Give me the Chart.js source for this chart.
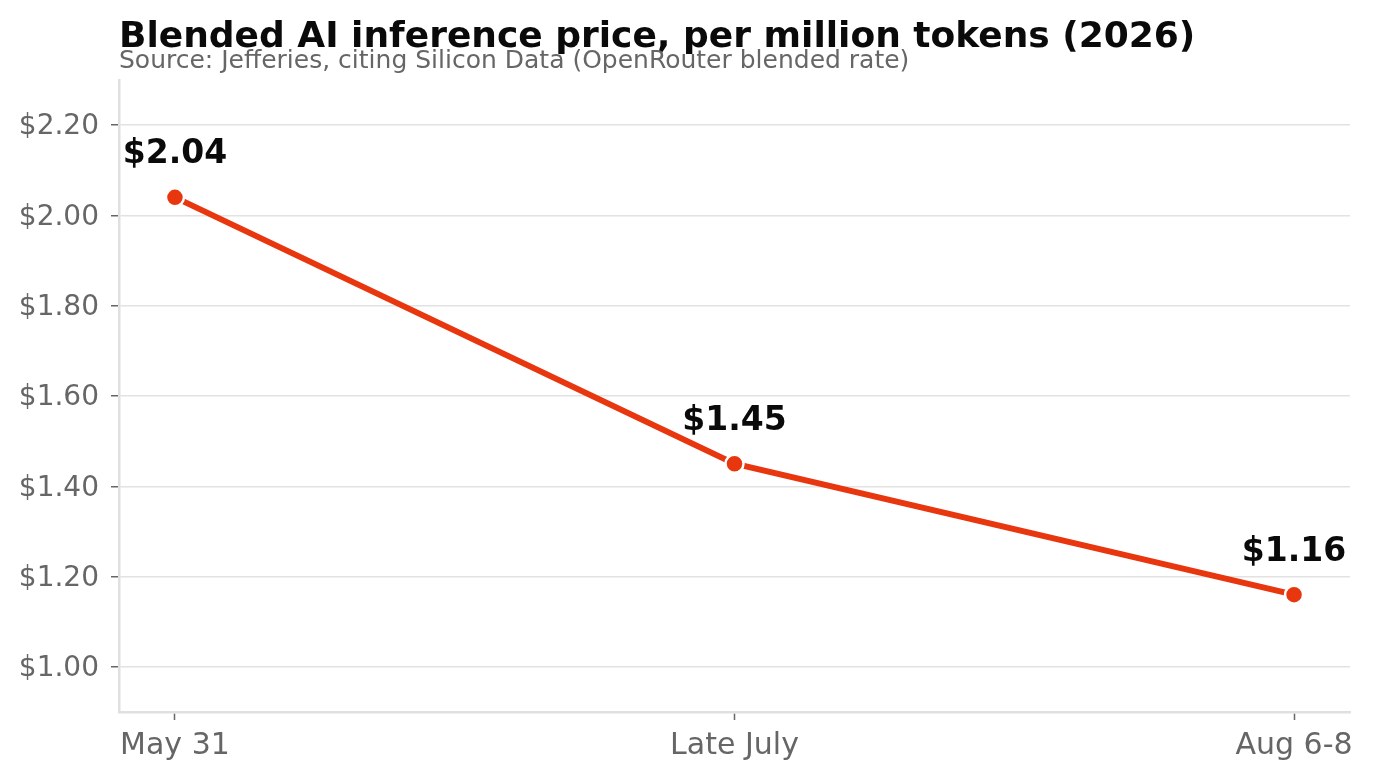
<!DOCTYPE html>
<html>
<head>
<meta charset="utf-8">
<script src="https://cdn.jsdelivr.net/npm/chart.js@4.4.1/dist/chart.umd.min.js"></script>
<style>
  html, body { margin: 0; padding: 0; background: #fff; }
  #wrap { position: relative; width: 1373px; height: 780px; }
</style>
</head>
<body>
<div id="wrap"><canvas id="price"></canvas></div>
<script>
// Chart data
const categories = ['May 31', 'Late July', 'Aug 6-8'];
const prices = [2.04, 1.45, 1.16];
const priceLabels = ['$2.04', '$1.45', '$1.16'];
const yTicks = [1.0, 1.2, 1.4, 1.6, 1.8, 2.0, 2.2];

const titleText = 'Blended AI inference price, per million tokens (2026)';
const subtitleText = 'Source: Jefferies, citing Silicon Data (OpenRouter blended rate)';

const FONT = "'DejaVu Sans', sans-serif";
const RED = '#e8360e';
const GRAY = '#666666';

// title + subtitle, drawn left aligned with the plot area
const headerPlugin = {
  id: 'header',
  afterDraw(chart) {
    const ctx = chart.ctx;
    const left = chart.chartArea.left;
    ctx.save();
    ctx.textAlign = 'left';
    ctx.textBaseline = 'alphabetic';
    ctx.fillStyle = '#0a0a0a';
    ctx.font = 'bold 36px ' + FONT;
    ctx.fillText(titleText, left, 47);
    ctx.fillStyle = GRAY;
    ctx.font = '25px ' + FONT;
    ctx.fillText(subtitleText, left, 68);
    ctx.restore();
  }
};

// value labels above each point
const valueLabelPlugin = {
  id: 'valueLabels',
  afterDatasetsDraw(chart) {
    const ctx = chart.ctx;
    const meta = chart.getDatasetMeta(0);
    ctx.save();
    ctx.textAlign = 'center';
    ctx.textBaseline = 'alphabetic';
    ctx.fillStyle = '#0a0a0a';
    ctx.font = 'bold 33px ' + FONT;
    meta.data.forEach((pt, i) => {
      ctx.fillText(priceLabels[i], pt.x, pt.y - 34);
    });
    ctx.restore();
  }
};

const ctx = document.getElementById('price');
new Chart(ctx, {
  type: 'line',
  data: {
    datasets: [{
      data: prices.map((v, i) => ({ x: i, y: v })),
      borderColor: RED,
      borderWidth: 6,
      backgroundColor: RED,
      pointRadius: 9,
      pointHoverRadius: 9,
      pointBorderColor: '#ffffff',
      pointBorderWidth: 2.5,
      pointBackgroundColor: RED,
      tension: 0,
      fill: false
    }]
  },
  options: {
    responsive: true,
    maintainAspectRatio: false,
    animation: false,
    layout: { padding: { top: 80, right: 23, bottom: 0, left: 0 } },
    plugins: {
      legend: { display: false },
      tooltip: { enabled: false }
    },
    scales: {
      x: {
        type: 'linear',
        min: -0.1,
        max: 2.1,
        afterBuildTicks: (s) => { s.ticks = categories.map((c, i) => ({ value: i })); },
        afterFit: (s) => { s.height = 68; },
        ticks: {
          color: GRAY,
          font: { family: FONT, size: 30 },
          padding: 8,
          maxRotation: 0,
          callback: (v) => categories[v]
        },
        grid: {
          drawOnChartArea: false,
          drawTicks: true,
          tickLength: 8,
          tickColor: GRAY,
          tickWidth: 1.5
        },
        border: { color: '#e0e0e0', width: 2.5 }
      },
      y: {
        min: 0.9,
        max: 2.3,
        afterBuildTicks: (s) => { s.ticks = yTicks.map(v => ({ value: v })); },
        afterFit: (s) => { s.width = 119; },
        ticks: {
          color: GRAY,
          font: { family: FONT, size: 28 },
          padding: 12,
          labelOffset: 2,
          callback: (v) => '$' + v.toFixed(2)
        },
        grid: {
          color: '#e2e2e2',
          lineWidth: 1.5,
          drawTicks: true,
          tickLength: 8,
          tickColor: GRAY,
          tickWidth: 1.5
        },
        border: { color: '#e0e0e0', width: 2.5 }
      }
    }
  },
  plugins: [headerPlugin, valueLabelPlugin]
});
</script>
</body>
</html>
